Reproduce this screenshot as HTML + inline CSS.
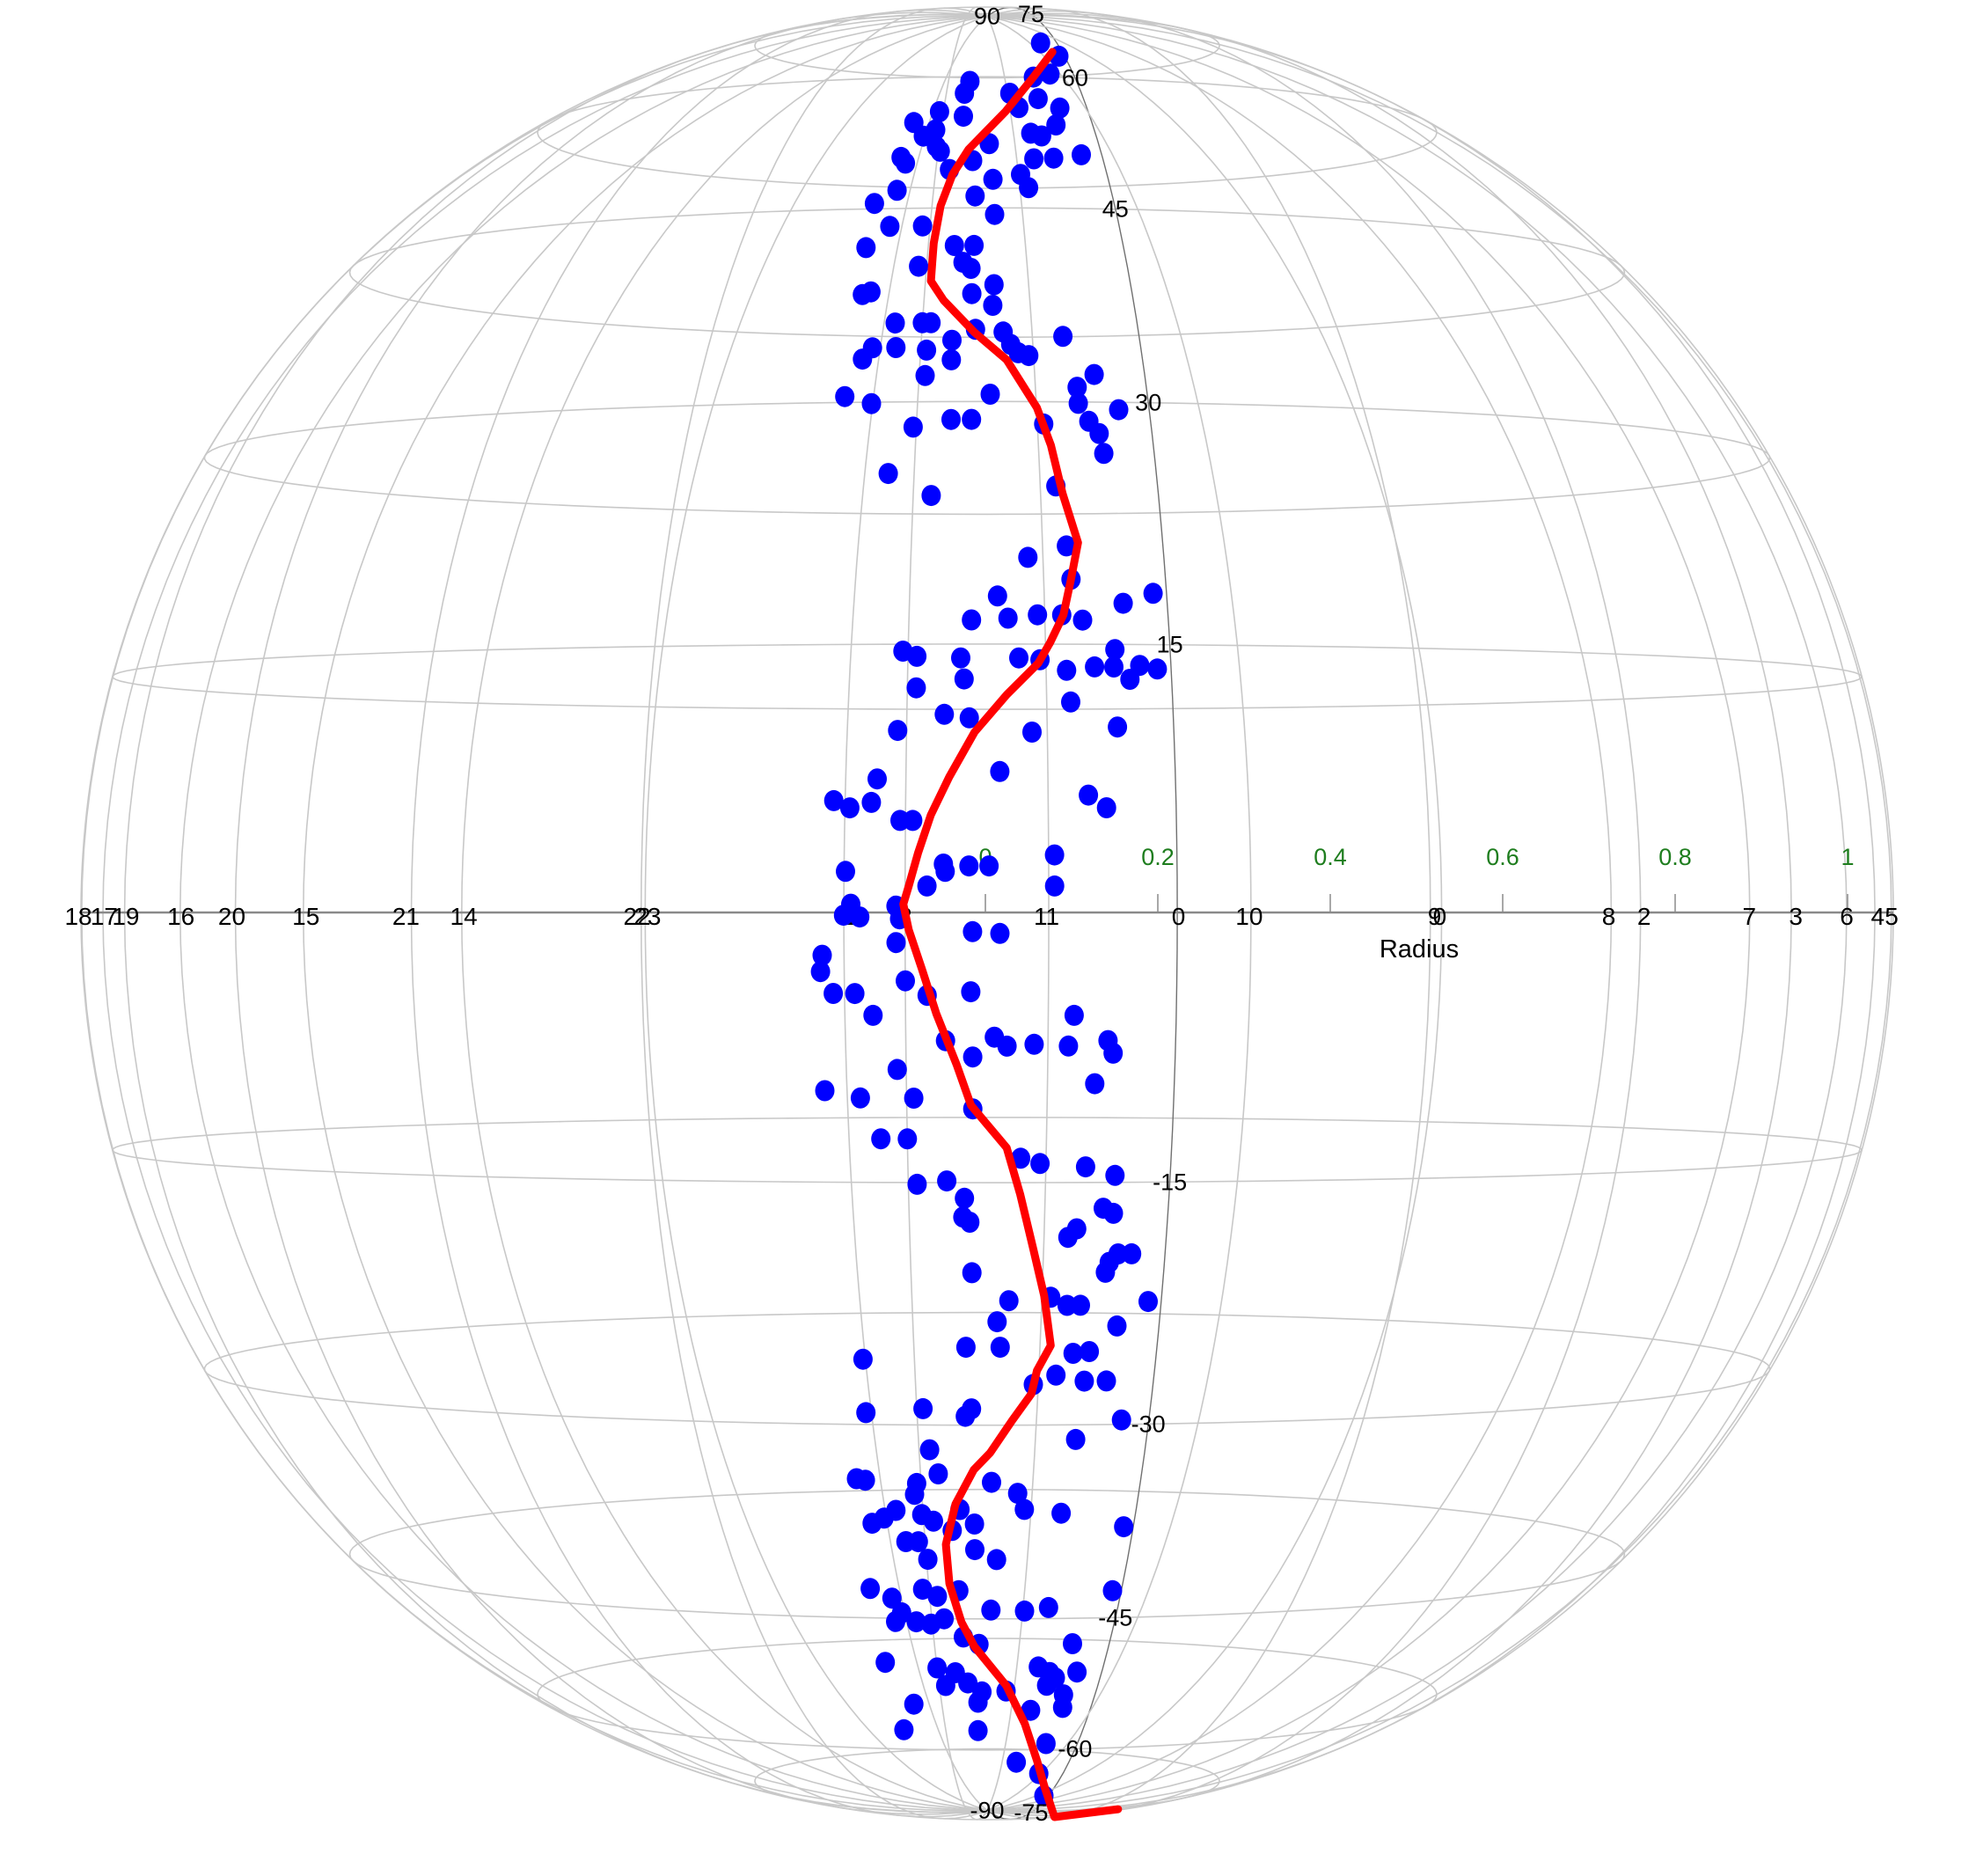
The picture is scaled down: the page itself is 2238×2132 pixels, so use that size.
<!DOCTYPE html>
<html><head><meta charset="utf-8"><title>Sphere chart</title>
<style>
html,body{margin:0;padding:0;background:#fff;}
svg{display:block;font-family:"Liberation Sans",sans-serif;}
</style></head>
<body>
<svg id="chart" width="2238" height="2132" viewBox="0 0 2238 2132" xmlns="http://www.w3.org/2000/svg">
<g id="grid"></g>
<g id="axis"></g>
<g id="dots"></g>
<g id="line"></g>
<g id="labels"></g>
</svg>
<script>
const dotLat=[66.2,63.6,60,60.5,59.3,57.6,57.6,56.9,55.7,55.7,55.2,54.6,53.9,53.6,53.0,52.6,52.3,52.3,51.1,50.6,51.4,50,49.6,49.4,49.9,50.3,49.8,48.2,47.7,48.7,46.7,46.9,45.5,46.1,44.4,43.4,43.4,41.6,41.7,41.7,40.0,40.3,39.8,38.5,37.8,38.0,37.8,36.9,35.6,35.6,35.6,34.3,35.1,34.9,34.0,34.6,33.8,33.8,33.6,32.9,33.0,31.8,33.2,33.4,31.9,31.0,30.4,29.9,30.5,29.9,29.5,28.7,28.3,28.8,28.8,27.9,26.6,25.3,28.5,23.9,24.5,
20.8,20.1,18.8,17.8,18.0,17.4,16.4,16.5,16.7,16.4,16.7,14.6,14.3,14.2,14.2,14.1,14.7,13.7,13.5,13.8,13.6,13.0,13.7,12.5,13.0,11.0,10.8,11.7,10.1,10.0,10.3,7.8,7.4,6.2,5.8,6.1,6.5,5.8,5.1,5.1,2.7,2.6,2.6,3.2,2.3,2.3,1.5,1.5,0.5,-0.1,-0.2,0.4,-0.3,-1.0,-1.1,-1.6,
-2.3,-3.2,-3.7,-4.4,-4.4,-4.5,-4.3,-5.6,-5.6,-7.0,-6.8,-7.3,-7.2,-7.9,-7.3,-7.0,-7.7,-8.6,-9.8,-10.2,-10.2,-9.4,-10.8,-12.5,-12.5,-13.6,-13.9,-14.1,-14.6,-15.1,-14.9,-15.9,-17.0,-17.3,-16.5,-16.8,-17.7,-18.2,-19.2,-19.7,-19.2,-20.3,-20.3,-22.0,-21.8,-22.3,-22.3,-22.1,-23.6,-23.3,-25.7,-24.9,-24.9,-25.3,-25.2,-27.1,-27.1,-26.7,-27.3,-29.7,-31.0,-29.2,-28.9,-28.9,-29.4,-31.7,-33.8,-33.9,-33.4,-34.1,-34.9,-34.0,-34.8,-37.1,-36.1,-36.7,-36.4,-36.9,-36.0,-37.6,-37.1,-36.0,-36.3,-37.4,-38.5,-38.5,-39.1,-39.9,-39.9,-42.4,-43.2,-42.4,-43.0,-42.5,-44.5,-45.3,-45.3,-45.5,-45.0,-44.2,-44.3,-44.0,-42.6,-46.7,-47.4,-47.4,-49.3,-49.8,-50.3,-49.7,-50.3,-50.9,-50.3,-51.7,-51.4,-52.4,-52.3,-51.7,-52.8,-53.9,-53.6,-54.6,-54.3,-57.2,-57.2,-59.1,-62.0,-64.1,-69.1];
const dotLon=[8.0,9.7,5.5,7.6,-2.0,-2.5,2.5,5.5,7.6,3.3,-4.9,-2.4,-7.3,6.8,-5.0,4.2,-6.1,5.2,-4.7,-4.3,0.2,-7.8,-1.3,-7.3,6.0,8.6,4.2,2.9,0.5,-3.3,-7.6,3.5,-9.3,-1.0,0.6,-7.7,-5.1,-9.3,-2.5,-1.0,-5.1,-1.8,-1.2,0.5,-9.0,-8.4,-1.1,0.4,-6.4,-4.5,-3.9,-2.4,-0.8,1.1,1.6,5.2,-7.8,-6.2,-4.1,-2.4,-8.4,-4.1,2.8,2.1,7.1,5.9,-9.3,-7.5,0.2,5.9,8.5,6.5,-4.7,-2.3,-1.0,7.1,7.3,-6.1,3.6,-3.4,4.2,
4.7,2.4,4.9,0.6,9.7,7.9,-0.9,1.2,2.9,5.5,4.3,-4.8,-4.0,-1.5,1.8,3.0,7.3,6.1,4.5,8.7,9.7,8.1,7.2,-4.0,-1.3,-2.4,-1.0,4.7,-5.0,2.5,7.3,0.7,-6.1,-8.5,-7.6,-6.4,5.6,6.6,-4.8,-4.1,-2.4,-1.0,0.1,3.7,-2.3,-7.8,3.7,-3.3,-7.5,-7.9,-7.0,-5.0,-4.8,-0.8,0.7,-5.0,
-9.1,-9.2,-4.5,-8.5,-7.3,-3.3,-0.9,-6.3,4.8,-2.3,0.4,1.1,2.6,-0.8,4.5,6.7,7.0,-5.0,-9.1,-7.1,-4.1,6.0,-0.8,-6.0,-4.5,1.9,3.0,5.6,7.3,-4.0,-2.3,-1.3,-1.4,-1.0,6.7,7.3,5.2,4.7,7.7,7.2,8.5,7.0,-0.9,1.3,3.8,4.8,5.6,9.7,7.9,0.6,-7.7,-1.3,0.8,5.3,6.3,6.1,7.5,4.3,2.9,8.7,5.8,-7.8,-4.1,-1.0,-1.4,-3.8,-8.9,-8.3,-3.3,-4.8,-5.0,0.3,2.1,-8.2,-6.4,-7.3,-4.6,-3.8,-1.9,-2.5,-0.9,2.6,5.2,9.8,-5.9,-5.0,-0.9,0.7,-4.4,-9.1,-7.5,-5.0,-3.9,-2.2,-6.9,-7.5,-5.8,-4.6,-3.5,0.3,3.0,4.9,9.8,-2.0,-0.7,7.3,-9.1,-4.5,-2.9,4.6,5.7,6.3,8.2,-3.9,-1.8,-0.5,1.8,5.6,7.4,-7.3,-0.9,4.4,7.6,-9.1,-1.0,6.8,3.7,7.1,9.7];
const lineLat=[64.4,60,55.2,50.8,48.2,45.2,41.9,40.3,38.8,37.3,34.9,32.9,29.6,27.1,24.0,21.0,18.8,16.7,15.1,13.9,12.1,10.0,7.5,5.4,3.3,1.5,0.5,-0.9,-3.0,-5.5,-8.3,-10.6,-13.0,-15.7,-18.9,-21.7,-24.8,-26.4,-27.9,-29.7,-31.9,-33.1,-35.6,-38.7,-41.9,-45.3,-47.6,-51.7,-56.3,-61.8,-66.8,-80,-80];
const lineLon=[9.1,5.5,1.9,-1.7,-3.0,-3.8,-4.1,-4.1,-4.1,-3.1,-0.9,1.3,3.2,4.0,4.6,5.4,4.9,4.4,3.6,2.9,1.1,-0.7,-2.1,-3.1,-3.8,-4.3,-4.6,-4.3,-3.6,-2.8,-1.7,-0.9,1.1,1.9,2.7,3.4,3.9,3.1,2.8,1.6,0.2,-0.9,-2.2,-3.0,-2.9,-2.1,-1.1,1.8,4.0,6.3,8.8,25,56];
const latTicks=[90,75,60,45,30,15,-15,-30,-45,-60,-75,-90];
const radiusTicks=[0,0.2,0.4,0.6,0.8,1];
const hourLabels=["18","17","19","16","20","15","21","14","22","23","1","2","11","0","10","9","0","8","2","7","3","6","4","5"];
const hourValues=[-1.052,-1.022,-0.997,-0.933,-0.874,-0.788,-0.672,-0.605,-0.404,-0.392,-0.157,-0.093,0.071,0.224,0.306,0.521,0.527,0.723,0.764,0.886,0.940,0.999,1.035,1.051];

const NS="http://www.w3.org/2000/svg";
const CX=1122, CY=1038, F=7136, D=7, MER0=10.5;
function proj(lat,lon){
  const p=lat*Math.PI/180, l=lon*Math.PI/180;
  const x=Math.cos(p)*Math.sin(l), y=Math.sin(p), z=Math.cos(p)*Math.cos(l);
  const s=F/(D-z);
  return [CX+s*x, CY-s*y];
}
function rx(u){return 1120+u*980;}
function mk(tag,attrs,parent){const e=document.createElementNS(NS,tag);for(const k in attrs)e.setAttribute(k,attrs[k]);parent.appendChild(e);return e;}
const grid=document.getElementById('grid');
// parallels
for(let lat=-75;lat<=75;lat+=15){
  if(lat===0)continue;
  let d='';
  for(let t=0;t<=360;t+=3){const q=proj(lat,t);d+=(t?'L':'M')+q[0].toFixed(1)+' '+q[1].toFixed(1);}
  const e=mk('path',{d:d+'Z',fill:'none',stroke:'#c8c8c8','stroke-width':1.6},grid);
  
  
}
// meridians
for(let k=0;k<24;k++){
  const lon=MER0+15*k;
  let d='';
  for(let t=-90;t<=90;t+=2){const q=proj(t,lon);d+=(t===-90?'M':'L')+q[0].toFixed(1)+' '+q[1].toFixed(1);}
  const e=mk('path',{d:d,fill:'none',stroke:k===0?'#707070':'#c8c8c8','stroke-width':k===0?1.4:1.6},grid);
  
  
}
// outline
{const e=mk('circle',{cx:CX,cy:CY,r:F/Math.sqrt(D*D-1),fill:'none',stroke:'#c8c8c8','stroke-width':1.6},grid);

}

// radius axis
const axis=document.getElementById('axis');
{const e=mk('line',{x1:90,y1:1037,x2:2152,y2:1037,stroke:'#8a8a8a','stroke-width':2.5},axis);

}
radiusTicks.forEach(v=>{
  const x=rx(v);
  const t=mk('line',{x1:x,y1:1016,x2:x,y2:1037,stroke:'#8a8a8a','stroke-width':1.5},axis);
  
  
  const l=mk('text',{x:x,y:983,'text-anchor':'middle','font-size':27,fill:'#1e7d1e'},axis);
  l.textContent=String(v);
  
  
});
hourLabels.forEach((s,i)=>{
  const l=mk('text',{x:rx(hourValues[i]),y:1051,'text-anchor':'middle','font-size':28,fill:'#000'},axis);
  l.textContent=s;
  
  
});
{const l=mk('text',{x:1613,y:1088,'text-anchor':'middle','font-size':29,fill:'#000'},axis);
l.textContent='Radius';

}

// dots
const dots=document.getElementById('dots');
dotLat.forEach((la,i)=>{
  const q=proj(la,dotLon[i]);
  const c=mk('ellipse',{cx:q[0].toFixed(1),cy:q[1].toFixed(1),rx:11,ry:12,fill:'#0000ff'},dots);
  
  
});
// line
const lg=document.getElementById('line');
{let d='';lineLat.forEach((la,i)=>{const q=proj(la,lineLon[i]);d+=(i?'L':'M')+q[0].toFixed(1)+' '+q[1].toFixed(1);});
const p=mk('path',{d:d,fill:'none',stroke:'#ff0000','stroke-width':9,'stroke-linejoin':'round','stroke-linecap':'round'},lg);

}

// latitude labels
const labs=document.getElementById('labels');
latTicks.forEach(v=>{
  const q=Math.abs(v)===90?proj(v,0):proj(v,MER0);
  const l=mk('text',{x:q[0].toFixed(1),y:(q[1]+9).toFixed(1),'text-anchor':'middle','font-size':27,fill:'#000'},labs);
  l.textContent=String(v);
  
  
});
</script>
</body></html>
